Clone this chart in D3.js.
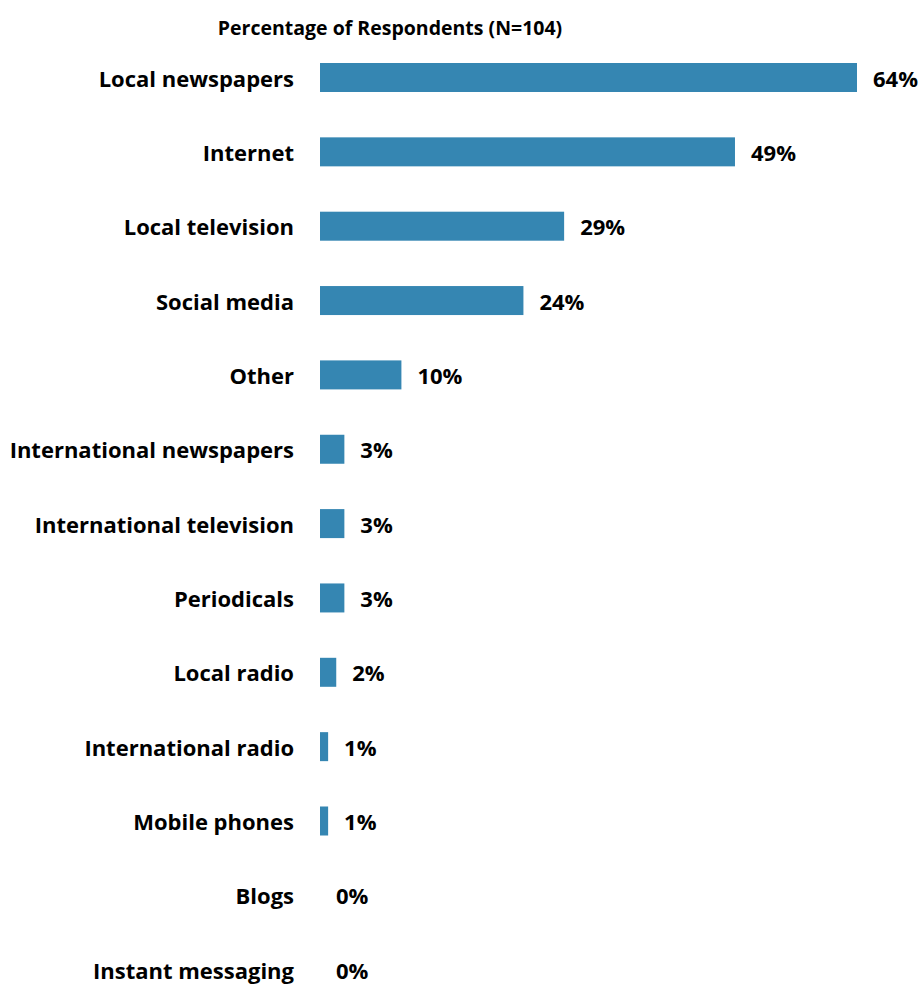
<!DOCTYPE html>
<html>
<head>
<meta charset="utf-8">
<script src="https://cdn.jsdelivr.net/npm/d3@7"></script>
<style>
  html, body { margin: 0; padding: 0; background: #fff; }
  svg { display: block; }
  text { font-family: "Open Sans", Lato, sans-serif; font-weight: bold; fill: #000; }
</style>
</head>
<body>
<svg id="chart" width="923" height="985"></svg>
<script>
const title = "Percentage of Respondents (N=104)";
const categories = ["Local newspapers", "Internet", "Local television", "Social media", "Other",
  "International newspapers", "International television", "Periodicals", "Local radio",
  "International radio", "Mobile phones", "Blogs", "Instant messaging"];
const values = [63.46, 49.04, 28.85, 24.04, 9.62, 2.88, 2.88, 2.88, 1.92, 0.96, 0.96, 0, 0];
const valueLabels = ["64%", "49%", "29%", "24%", "10%", "3%", "3%", "3%", "2%", "1%", "1%", "0%", "0%"];

const svg = d3.select("#chart");
const x = d3.scaleLinear().domain([0, 63.46]).range([320, 857]);
const step = 74.35;
const y = d3.scaleBand().domain(categories)
  .range([77.5 - step / 2, 77.5 - step / 2 + step * categories.length])
  .paddingInner(0.61).paddingOuter(0.305);

svg.append("text").attr("x", 390).attr("y", 27).attr("text-anchor", "middle")
  .attr("dominant-baseline", "central").style("font-size", "19.5px").text(title);

const rows = svg.selectAll("g.row").data(categories).enter().append("g").attr("class", "row");

rows.append("rect")
  .attr("x", x(0))
  .attr("y", d => y(d))
  .attr("width", (d, i) => x(values[i]) - x(0))
  .attr("height", y.bandwidth())
  .attr("fill", "#3586b2");

rows.append("text")
  .attr("x", 294)
  .attr("y", d => y(d) + y.bandwidth() / 2)
  .attr("text-anchor", "end")
  .attr("dominant-baseline", "central")
  .style("font-size", "22px")
  .text(d => d);

rows.append("text")
  .attr("x", (d, i) => x(values[i]) + 16)
  .attr("y", d => y(d) + y.bandwidth() / 2)
  .attr("dominant-baseline", "central")
  .style("font-size", "22px")
  .text((d, i) => valueLabels[i]);
</script>
</body>
</html>
